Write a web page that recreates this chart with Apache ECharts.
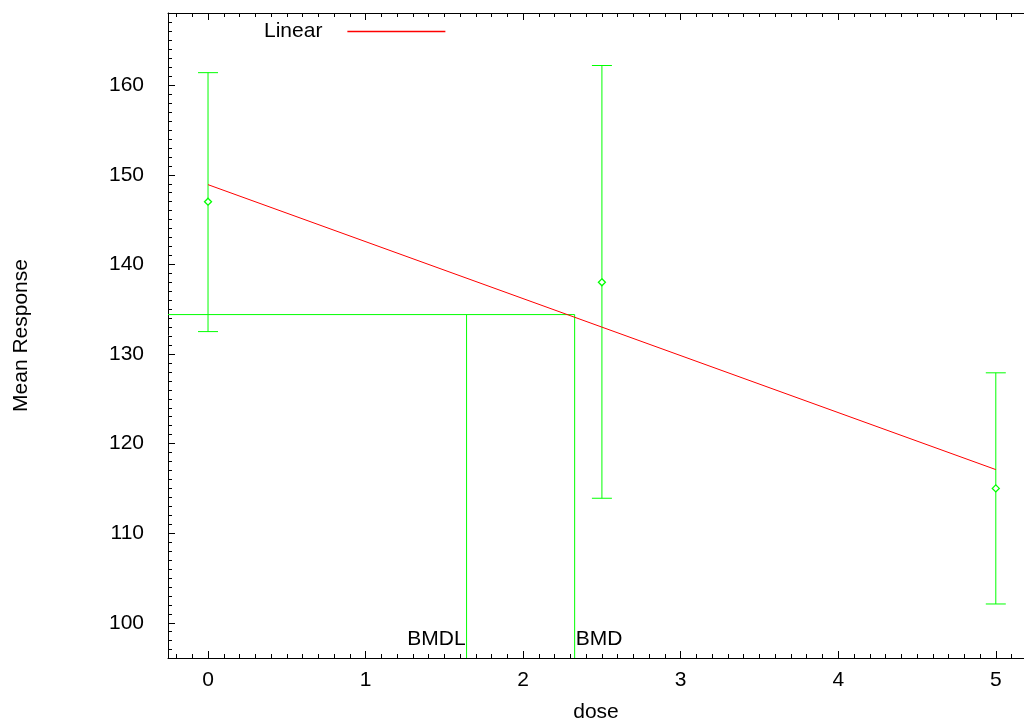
<!DOCTYPE html>
<html>
<head>
<meta charset="utf-8">
<script src="https://cdn.jsdelivr.net/npm/echarts@6/dist/echarts.min.js"></script>
<style>
html,body{margin:0;padding:0;background:#fff;}
#chart{width:1024px;height:721px;}
</style>
</head>
<body>
<div id="chart"></div>
<script>
// ---- data ----
const doses = [0, 2.5, 5];
const means = [147.0, 138.0, 115.0];
const lowerBars = [132.5, 113.9, 102.1];
const upperBars = [161.4, 162.2, 127.9];

const fitDoses = [0, 5];
const fitValues = [148.9, 117.1];

const bmr = 134.4;
const bmd = 2.327;
const bmdl = 1.641;
const markerNames = ['BMDL', 'BMD'];
const markerDoses = [bmdl, bmd];
const markerLabelY = 98.2;

const xMin = -0.254, xMax = 5.179;
const yMin = 96.07, yMax = 168.06;

const FONT = '"Liberation Sans", Arial, sans-serif';
const FS = 21;
const GREEN = '#00ff00';
const RED = '#ff0000';
const AXIS = '#000000';

const chart = echarts.init(document.getElementById('chart'), null, {renderer: 'canvas'});

const errData = doses.map((d, i) => [d, lowerBars[i], upperBars[i]]);
const meanData = doses.map((d, i) => [d, means[i]]);
const fitData = fitDoses.map((d, i) => [d, fitValues[i]]);
const bmdPath = [[xMin, bmr], [bmd, bmr], [bmd, yMin]];
const bmdlPath = [[bmdl, bmr], [bmdl, yMin]];
const labelData = markerNames.map((n, i) => ({name: n, value: [markerDoses[i], markerLabelY],
  label: {position: i === 0 ? 'left' : 'right'}}));

const tickCommon = {
  axisLine: {show: true, onZero: false, lineStyle: {color: AXIS, width: 1}},
  axisTick: {show: true, inside: true, length: 7, lineStyle: {color: AXIS}},
  minorTick: {show: true, splitNumber: 10, length: 4, lineStyle: {color: AXIS}},
  splitLine: {show: false},
  minorSplitLine: {show: false}
};

chart.setOption({
  animation: false,
  backgroundColor: '#ffffff',
  textStyle: {fontFamily: FONT},
  grid: {left: 168, right: 0, top: 13, bottom: 63, containLabel: false, outerBoundsMode: 'none'},
  legend: {
    left: 259, top: 16, align: 'right', itemWidth: 98, itemHeight: 1.5, itemGap: 0,
    data: [{name: 'Linear', icon: 'rect'}],
    itemStyle: {color: RED},
    textStyle: {fontFamily: FONT, fontSize: FS, color: '#000', padding: [0, 20, 0, 0]}
  },
  xAxis: [
    Object.assign({
      type: 'value', min: xMin, max: xMax, position: 'bottom',
      name: 'dose', nameLocation: 'middle', nameGap: 44,
      nameTextStyle: {fontFamily: FONT, fontSize: FS, color: '#000'},
      axisLabel: {fontFamily: FONT, fontSize: FS, color: '#000', margin: 12,
        showMinLabel: false, showMaxLabel: false}
    }, tickCommon),
    Object.assign({
      type: 'value', min: xMin, max: xMax, position: 'top',
      axisLabel: {show: false}
    }, tickCommon)
  ],
  yAxis: [
    Object.assign({
      type: 'value', min: yMin, max: yMax, position: 'left',
      name: 'Mean Response', nameLocation: 'middle', nameGap: 136, nameRotate: 90,
      nameTextStyle: {fontFamily: FONT, fontSize: FS, color: '#000'},
      axisLabel: {fontFamily: FONT, fontSize: FS, color: '#000', margin: 24,
        showMinLabel: false, showMaxLabel: false}
    }, tickCommon)
  ],
  series: [
    {
      name: 'Linear', type: 'line', data: fitData, symbol: 'none',
      lineStyle: {color: RED, width: 1}, itemStyle: {color: RED}, z: 3
    },
    {
      name: 'errorbars', type: 'custom', data: errData,
      renderItem: function (params, api) {
        const x = api.value(0);
        const lo = api.coord([x, api.value(1)]);
        const hi = api.coord([x, api.value(2)]);
        const cap = 10;
        const style = {stroke: GREEN, lineWidth: 1, fill: null};
        return {
          type: 'group',
          children: [
            {type: 'line', shape: {x1: lo[0], y1: lo[1], x2: hi[0], y2: hi[1]}, style: style},
            {type: 'line', shape: {x1: lo[0] - cap, y1: lo[1], x2: lo[0] + cap, y2: lo[1]}, style: style},
            {type: 'line', shape: {x1: hi[0] - cap, y1: hi[1], x2: hi[0] + cap, y2: hi[1]}, style: style}
          ]
        };
      },
      z: 2
    },
    {
      name: 'means', type: 'scatter', data: meanData, symbol: 'diamond', symbolSize: 7,
      itemStyle: {color: '#ffffff', borderColor: GREEN, borderWidth: 1.3, opacity: 1}, z: 4
    },
    {
      name: 'bmd', type: 'line', data: bmdPath, symbol: 'none',
      lineStyle: {color: GREEN, width: 1}, z: 2
    },
    {
      name: 'bmdl', type: 'line', data: bmdlPath, symbol: 'none',
      lineStyle: {color: GREEN, width: 1}, z: 2
    },
    {
      name: 'markerLabels', type: 'scatter', data: labelData, symbolSize: 0,
      itemStyle: {opacity: 1},
      label: {show: true, formatter: '{b}', distance: 1, fontFamily: FONT, fontSize: FS, color: '#000000', opacity: 1},
      z: 5
    }
  ]
});
</script>
</body>
</html>
